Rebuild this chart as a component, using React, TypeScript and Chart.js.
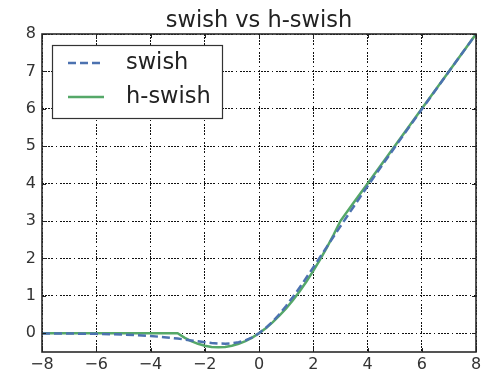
import { useEffect, useRef } from "react";
import { Chart, registerables } from "chart.js";

Chart.register(...registerables);

const titleText = "swish vs h-swish";
const seriesNames = ["swish", "h-swish"];
const xValues = [-8, -7, -6, -5, -4.5, -4, -3.5, -3, -2.75, -2.5, -2.25, -2, -1.75, -1.5, -1.25, -1, -0.75, -0.5, -0.25, 0, 0.25, 0.5, 0.75, 1, 1.25, 1.5, 1.75, 2, 2.25, 2.5, 2.75, 3, 3.5, 4, 4.5, 5, 6, 7, 8];
const swishValues = [-0.003, -0.006, -0.015, -0.033, -0.049, -0.072, -0.103, -0.142, -0.165, -0.19, -0.215, -0.238, -0.259, -0.274, -0.278, -0.269, -0.241, -0.189, -0.109, 0, 0.141, 0.311, 0.509, 0.731, 0.972, 1.226, 1.491, 1.762, 2.035, 2.31, 2.585, 2.858, 3.397, 3.928, 4.451, 4.967, 5.985, 6.994, 7.997];
const hswishValues = [0, 0, 0, 0, 0, 0, 0, 0, -0.115, -0.208, -0.281, -0.333, -0.365, -0.375, -0.365, -0.333, -0.281, -0.208, -0.115, 0, 0.135, 0.292, 0.469, 0.667, 0.885, 1.125, 1.385, 1.667, 1.969, 2.292, 2.635, 3, 3.5, 4, 4.5, 5, 6, 7, 8];
const xTickValues = [-8, -6, -4, -2, 0, 2, 4, 6, 8];
const yTickValues = [0, 1, 2, 3, 4, 5, 6, 7, 8];

const BLUE = "#4C72B0";
const GREEN = "#55A868";
const FONT = "'DejaVu Sans', sans-serif";
const GRID_DASH = [2, 1, 2, 1, 2, 1, 2, 3, 1, 3];

const decorPlugin = {
  id: "decor",
  afterDraw(chart: any) {
    const ctx = chart.ctx;
    const a = chart.chartArea;
    const xs = chart.scales.x;
    const ys = chart.scales.y;
    ctx.save();
    // frame
    ctx.strokeStyle = "#2a2a2a";
    ctx.lineWidth = 1.6;
    ctx.setLineDash([]);
    ctx.strokeRect(a.left, a.top, a.right - a.left, a.bottom - a.top);
    // inward ticks
    ctx.lineWidth = 1;
    ctx.strokeStyle = "#222";
    ctx.beginPath();
    for (const v of xTickValues) {
      const px = Math.round(xs.getPixelForValue(v)) + 0.5;
      ctx.moveTo(px, a.bottom);
      ctx.lineTo(px, a.bottom - 4);
      ctx.moveTo(px, a.top);
      ctx.lineTo(px, a.top + 4);
    }
    for (const v of yTickValues) {
      const py = Math.round(ys.getPixelForValue(v)) + 0.5;
      ctx.moveTo(a.left, py);
      ctx.lineTo(a.left + 4, py);
      ctx.moveTo(a.right, py);
      ctx.lineTo(a.right - 4, py);
    }
    ctx.stroke();
    // title
    ctx.fillStyle = "#222";
    ctx.font = `22.5px ${FONT}`;
    ctx.textAlign = "center";
    ctx.textBaseline = "alphabetic";
    ctx.fillText(titleText, (a.left + a.right) / 2, 27);
    // legend
    const lx = 52, ly = 45, lw = 170, lh = 73;
    ctx.fillStyle = "#fff";
    ctx.fillRect(lx, ly, lw, lh);
    ctx.strokeStyle = "#333";
    ctx.lineWidth = 1.2;
    ctx.strokeRect(lx + 0.5, ly + 0.5, lw, lh);
    const rows = [
      { name: seriesNames[0], color: BLUE, dash: [8, 4], y: 63 },
      { name: seriesNames[1], color: GREEN, dash: [], y: 97 },
    ];
    for (const r of rows) {
      ctx.strokeStyle = r.color;
      ctx.lineWidth = 2.5;
      ctx.setLineDash(r.dash);
      ctx.beginPath();
      ctx.moveTo(68, r.y);
      ctx.lineTo(104, r.y);
      ctx.stroke();
      ctx.setLineDash([]);
      ctx.fillStyle = "#222";
      ctx.font = `22.5px ${FONT}`;
      ctx.textAlign = "left";
      ctx.textBaseline = "middle";
      ctx.fillText(r.name, 126, r.y);
    }
    ctx.restore();
  },
};

export default function App() {
  const ref = useRef<HTMLCanvasElement>(null);
  useEffect(() => {
    if (!ref.current) return;
    const chart = new Chart(ref.current, {
      type: "line",
      data: {
        datasets: [
          {
            label: seriesNames[0],
            data: xValues.map((x, i) => ({ x, y: swishValues[i] })),
            borderColor: BLUE,
            borderWidth: 2.5,
            borderDash: [8, 4],
            pointRadius: 0,
            tension: 0,
            fill: false,
          },
          {
            label: seriesNames[1],
            data: xValues.map((x, i) => ({ x, y: hswishValues[i] })),
            borderColor: GREEN,
            borderWidth: 2.5,
            pointRadius: 0,
            tension: 0,
            fill: false,
          },
        ],
      },
      options: {
        animation: false,
        responsive: false,
        devicePixelRatio: 1,
        layout: { padding: { top: 34, right: 16, left: 0, bottom: 0 } },
        plugins: { legend: { display: false }, title: { display: false }, tooltip: { enabled: false } },
        scales: {
          x: {
            type: "linear",
            min: -8,
            max: 8,
            afterBuildTicks: (s: any) => {
              s.ticks = xTickValues.map((v) => ({ value: v }));
            },
            afterFit: (s: any) => {
              s.height = 22;
            },
            ticks: {
              color: "#333",
              font: { family: FONT, size: 16 },
              padding: 3,
              maxRotation: 0,
              callback: (v: any) => String(v).replace("-", "\u2212"),
            },
            grid: { color: "#111", lineWidth: 1, drawTicks: false },
            border: { display: false, dash: GRID_DASH },
          },
          y: {
            type: "linear",
            min: -0.5,
            max: 8,
            afterBuildTicks: (s: any) => {
              s.ticks = yTickValues.map((v) => ({ value: v }));
            },
            afterFit: (s: any) => {
              s.width = 42;
            },
            ticks: {
              color: "#333",
              font: { family: FONT, size: 16 },
              padding: 6,
              callback: (v: any) => String(v).replace("-", "\u2212"),
            },
            grid: { color: "#111", lineWidth: 1, drawTicks: false },
            border: { display: false, dash: GRID_DASH },
          },
        },
      },
      plugins: [decorPlugin],
    } as any);
    return () => chart.destroy();
  }, []);
  return (
    <div style={{ position: "absolute", left: 0, top: 0, width: 492, height: 374, background: "#fff" }}>
      <canvas ref={ref} width={492} height={374} style={{ display: "block", width: 492, height: 374 }} />
    </div>
  );
}
